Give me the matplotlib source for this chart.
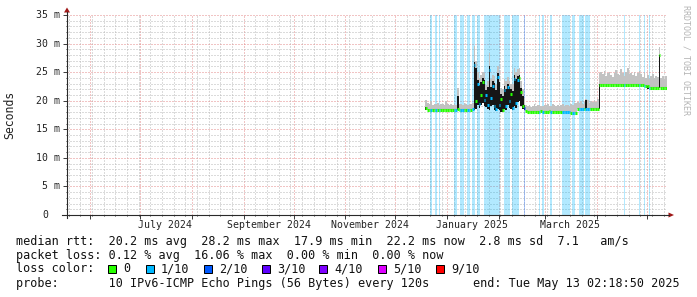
import datetime as dt
import matplotlib
matplotlib.use("Agg")
import matplotlib.pyplot as plt
import matplotlib.dates as mdates
import matplotlib.transforms as mtrans
from matplotlib.patches import Rectangle, Polygon
from matplotlib.lines import Line2D
import numpy as np

# ---------------- data ----------------
end_time = dt.datetime(2025, 5, 13, 2, 18, 50)
span_days = 360
first_day = dt.datetime(2024, 12, 19)

# daily median rtt (ms), starting at first_day
median_ms = [
    18.7, 18.4, 18.4, 18.4, 18.4, 18.4, 18.4, 18.4, 18.4, 18.4,
    18.4, 18.4, 18.4, 18.4, 18.4, 18.4, 18.4, 18.4, 18.4, 18.5,
    18.4, 18.4, 18.4, 18.4, 18.4, 18.4, 18.4, 18.4, 18.5, 26.2,
    20.0, 22.9, 19.5, 21.0, 23.2, 20.2, 21.0, 19.3, 25.3, 20.5,
    22.6, 19.0, 18.6, 24.2, 19.2, 20.3, 18.3, 21.8, 19.0, 22.4,
    20.0, 21.2, 18.8, 23.8, 19.6, 23.6, 24.0, 21.5, 19.0, 18.7,
    18.2, 18.1, 18.1, 18.1, 18.1, 18.1, 18.1, 18.1, 18.1, 18.2,
    18.1, 18.1, 18.1, 18.1, 18.2, 18.1, 18.1, 18.1, 18.1, 18.1,
    18.1, 18.1, 18.1, 18.0, 18.0, 18.1, 18.1, 17.9, 17.8, 17.8,
    17.8, 18.5, 18.5, 18.6, 18.5, 18.6, 18.6, 18.6, 18.5, 18.6,
    18.6, 18.6, 18.6, 18.6, 22.8, 22.8, 22.8, 22.8, 22.8, 22.8,
    22.8, 22.8, 22.8, 22.8, 22.8, 22.8, 22.8, 22.8, 22.8, 22.8,
    22.8, 22.8, 22.8, 22.8, 22.8, 22.8, 22.8, 22.8, 22.8, 22.8,
    22.8, 22.6, 22.5, 22.5, 22.2, 22.2, 22.2, 22.2, 22.2, 22.2,
    28.0, 22.2, 22.2, 22.2, 22.2,
]

# daily max of the ping "smoke" (ms)
smoke_top_ms = [
    20.1, 19.6, 19.4, 20.0, 19.3, 19.5, 19.4, 19.6, 19.3, 19.5,
    19.4, 19.3, 19.9, 19.4, 19.3, 19.5, 19.2, 19.4, 19.3, 22.3,
    19.5, 19.4, 19.3, 19.6, 19.4, 19.3, 19.5, 19.4, 19.6, 29.5,
    27.0, 25.0, 24.0, 24.5, 25.0, 24.8, 22.8, 23.5, 28.3, 23.8,
    24.5, 24.3, 23.0, 26.0, 24.5, 22.3, 22.0, 23.8, 23.5, 24.2,
    23.5, 23.0, 23.0, 25.7, 25.0, 25.6, 25.8, 23.5, 22.0, 20.5,
    19.2, 19.0, 19.3, 18.9, 19.1, 19.4, 19.0, 19.2, 19.3, 19.1,
    19.0, 19.3, 19.2, 19.5, 19.1, 19.0, 19.4, 19.2, 19.0, 19.3,
    19.1, 19.2, 19.4, 19.0, 19.3, 19.2, 19.0, 19.5, 19.3, 19.6,
    19.6, 19.8, 19.6, 20.0, 19.5, 19.8, 20.3, 20.1, 19.6, 19.9,
    19.7, 20.2, 19.8, 20.3, 24.8, 25.0, 24.6, 25.2, 24.4, 24.9,
    25.0, 24.5, 24.2, 24.8, 25.4, 24.7, 24.5, 25.6, 24.9, 24.3,
    25.1, 25.7, 24.6, 24.8, 24.5, 25.0, 24.4, 24.9, 25.2, 24.6,
    24.2, 24.8, 24.0, 24.5, 23.8, 24.3, 24.6, 23.9, 24.4, 24.2,
    29.4, 24.0, 24.3, 23.8, 24.4,
]

# packet loss per day, in tenths (0 .. 10)
loss_tenths = [
    0, 0, 0, 1, 0, 0, 1, 0, 1, 0,
    0, 0, 0, 0, 0, 0, 0, 1, 1, 0,
    0, 1, 1, 0, 0, 1, 1, 0, 1, 1,
    0, 1, 1, 0, 0, 1, 1, 1, 1, 1,
    1, 1, 1, 1, 1, 0, 0, 1, 1, 1,
    1, 0, 1, 1, 1, 1, 0, 0, 0, 2,
    0, 0, 0, 0, 0, 0, 0, 0, 1, 0,
    1, 0, 0, 0, 0, 1, 0, 0, 0, 0,
    0, 0, 1, 1, 1, 1, 1, 0, 1, 1,
    0, 0, 1, 1, 1, 0, 1, 1, 1, 0,
    0, 0, 0, 0, 0, 0, 0, 0, 0, 0,
    0, 0, 0, 0, 0, 0, 0, 0, 0, 1,
    0, 0, 0, 0, 0, 0, 0, 0, 1, 0,
    0, 1, 0, 0, 1, 0, 0, 0, 0, 0,
    0, 0, 0, 0, 0,
]

# spread of the median within a day (black band): day index, low, high (ms)
band_day = [0, 19] + list(range(29, 60)) + [96, 104, 133, 140]
band_low = [18.4, 18.4,
            18.4, 18.5, 19.2, 18.7, 19.3, 19.6, 19.0, 18.9, 18.6, 18.4,
            19.0, 19.3, 18.3, 18.2, 18.6, 18.4, 18.1, 18.0, 18.5, 18.3,
            19.2, 18.8, 18.6, 18.3, 19.0, 18.7, 19.8, 20.0, 19.0, 18.6,
            18.3,
            18.6, 18.6, 22.1, 22.2]
band_high = [18.9, 20.8,
             26.8, 25.8, 23.6, 22.8, 23.3, 23.9, 23.6, 21.8, 22.4, 26.0,
             22.4, 23.4, 23.1, 21.9, 24.8, 23.3, 21.1, 20.9, 22.6, 22.1,
             23.0, 22.4, 22.0, 21.7, 24.5, 23.8, 24.3, 24.5, 22.3, 20.9,
             19.3,
             20.1, 22.9, 22.6, 28.0]

loss_legend_tenths = [0, 1, 2, 3, 4, 5, 9]
loss_colors = {0: "#26ff00", 1: "#00b8ff", 2: "#0059ff", 3: "#5e00ff",
               4: "#7e00ff", 5: "#dd00ff", 9: "#ff0000"}

y_ticks_ms = [0, 5, 10, 15, 20, 25, 30, 35]
x_label_months = [(2024, 7), (2024, 9), (2024, 11), (2025, 1), (2025, 3)]

stats_line1 = "median rtt:  20.2 ms avg  28.2 ms max  17.9 ms min  22.2 ms now  2.8 ms sd  7.1   am/s"
stats_line2 = "packet loss: 0.12 % avg  16.06 % max  0.00 % min  0.00 % now"
probe_text = "probe:       10 IPv6-ICMP Echo Pings (56 Bytes) every 120s"
end_text = "end: Tue May 13 02:18:50 2025"

# ---------------- figure ----------------
W, H = 697, 297
fig = plt.figure(figsize=(W / 100, H / 100), dpi=100)
fig.patch.set_facecolor("white")
MONO = "DejaVu Sans Mono"


def fx(px):
    return px / W


def fy(py):
    return 1 - py / H


ax = fig.add_axes([fx(67), fy(215), 600 / W, 200 / H])
ax.set_facecolor("white")
start_time = end_time - dt.timedelta(days=span_days)
ax.set_xlim(mdates.date2num(start_time), mdates.date2num(end_time))
ax.set_ylim(0, 35)

n = len(median_ms)
day_x = mdates.date2num([first_day + dt.timedelta(days=i) for i in range(n)])
median = np.array(median_ms)
smoke_top = np.array(smoke_top_ms)
loss = np.array(loss_tenths)

# grid
ax.set_axisbelow(True)
ax.xaxis.set_major_locator(mdates.MonthLocator())
ax.xaxis.set_minor_locator(mdates.WeekdayLocator(byweekday=mdates.SU))
ax.yaxis.set_major_locator(plt.MultipleLocator(5))
ax.yaxis.set_minor_locator(plt.MultipleLocator(1))
ax.grid(which="minor", color="#b8b8b8", linestyle=(0, (1, 2)), linewidth=0.72)
ax.grid(which="major", color="#e48a8a", linestyle=(0, (1, 2)), linewidth=0.72)
ax.tick_params(which="both", labelbottom=False, labelleft=False, color="#404040", width=0.72, direction="out")
ax.tick_params(which="major", length=3)
ax.tick_params(which="minor", length=1)
for s in ax.spines.values():
    s.set_visible(False)

# loss background
lmask = loss > 0
ax.bar(day_x[lmask], 35, bottom=0, width=1, align="edge",
       color=[loss_colors[v] for v in loss[lmask]], alpha=0.3, linewidth=0, zorder=1)

# smoke
band_low_full = median.copy()
band_low_full[band_day] = np.minimum(median[band_day], band_low)
ax.bar(day_x, smoke_top - band_low_full, bottom=band_low_full, width=1, align="edge",
       color="#c2c2c2", linewidth=0, zorder=1.5)

# median spread (black)
bd = np.array(band_day)
ax.bar(day_x[bd], np.array(band_high) - np.array(band_low), bottom=band_low,
       width=1, align="edge", color="#161616", linewidth=0, zorder=2)

# median line coloured by loss
ax.hlines(median, day_x, day_x + 1, colors=[loss_colors[v] for v in loss],
          linewidth=2.2, zorder=3)

# axis lines & arrows (figure pixel coords)
axis_col = "#2a2a2a"
fig.add_artist(Line2D([fx(67), fx(67)], [fy(218), fy(12)], color=axis_col, lw=0.8))
fig.add_artist(Line2D([fx(62), fx(669)], [fy(215), fy(215)], color=axis_col, lw=0.8))
arrow_col = "#a01818"
fig.add_artist(Polygon([[fx(64), fy(12.5)], [fx(70), fy(12.5)], [fx(67), fy(7.5)]],
                       closed=True, color=arrow_col, lw=0))
fig.add_artist(Polygon([[fx(668.5), fy(212.5)], [fx(668.5), fy(217.5)], [fx(674), fy(215)]],
                       closed=True, color=arrow_col, lw=0))

# y labels
ytrans = mtrans.offset_copy(ax.get_yaxis_transform(), fig=fig, x=-7, y=0, units="dots")
ytrans0 = mtrans.offset_copy(ax.get_yaxis_transform(), fig=fig, x=-19, y=0, units="dots")
for v in y_ticks_ms:
    if v == 0:
        ax.text(0, v, "0", transform=ytrans0, ha="right", va="center",
                family=MONO, fontsize=7.1, color="#222222")
    else:
        ax.text(0, v, f"{v} m", transform=ytrans, ha="right", va="center",
                family=MONO, fontsize=7.1, color="#222222")

# x labels (centred half a month after the month start, rrdtool style)
xtrans = mtrans.offset_copy(ax.get_xaxis_transform(), fig=fig, x=0, y=-10, units="dots")
for (yy, mm) in x_label_months:
    d0 = dt.datetime(yy, mm, 1)
    ax.text(mdates.date2num(d0 + dt.timedelta(days=15)), 0, d0.strftime("%B %Y"),
            transform=xtrans, ha="center", va="center", family=MONO, fontsize=7.1, color="#222222")

fig.text(fx(10), fy(115), "Seconds", rotation=90, ha="center", va="center",
         family=MONO, fontsize=8.3, color="#222222")
fig.text(fx(686), fy(60), "RRDTOOL / TOBI OETIKER", rotation=270, ha="center", va="center",
         family=MONO, fontsize=6.0, color="#b4b4b4")

# legend rows
tc = "#111111"
fs = 8.45
fig.text(fx(16), fy(241), stats_line1, ha="left", va="center", family=MONO, fontsize=fs, color=tc)
fig.text(fx(16), fy(255), stats_line2, ha="left", va="center", family=MONO, fontsize=fs, color=tc)
fig.text(fx(16), fy(269), "loss color:", ha="left", va="center", family=MONO, fontsize=fs, color=tc)
box_px = [108, 146, 204, 262, 319, 378, 436]
for bx, t in zip(box_px, loss_legend_tenths):
    fig.add_artist(Rectangle((fx(bx), fy(273)), 8 / W, 8 / H, facecolor=loss_colors[t],
                             edgecolor="black", linewidth=0.72))
    fig.text(fx(bx + 15), fy(269), "0" if t == 0 else f"{t}/10", ha="left", va="center",
             family=MONO, fontsize=fs, color=tc)
fig.text(fx(16), fy(283), probe_text, ha="left", va="center", family=MONO, fontsize=fs, color=tc)
fig.text(fx(680), fy(283), end_text, ha="right", va="center", family=MONO, fontsize=fs, color=tc)

fig.savefig("out.png", dpi=100, facecolor="white")
